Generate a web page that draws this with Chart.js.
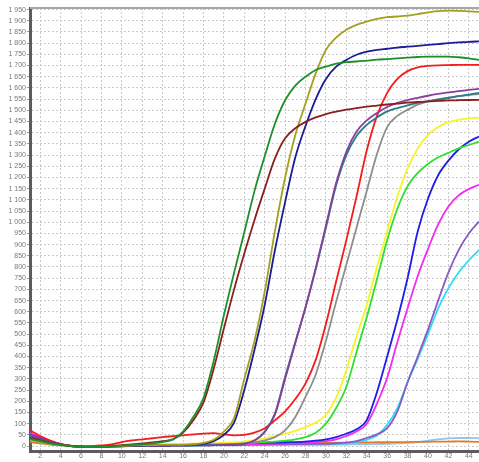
<!DOCTYPE html>
<html>
<head>
<meta charset="utf-8">
<script src="https://cdn.jsdelivr.net/npm/chart.js@4.4.1/dist/chart.umd.min.js"></script>
<style>
html, body { margin: 0; padding: 0; background: #fff; }
</style>
</head>
<body>
<canvas id="chart" width="479" height="462"></canvas>
<script>
// cycle numbers (x)
const cycles = [1, 2, 3, 4, 5, 6, 7, 8, 9, 10, 11, 12, 13, 14, 15, 16, 17, 18, 19, 20, 21, 22, 23,
    24, 25, 26, 27, 28, 29, 30, 31, 32, 33, 34, 35, 36, 37, 38, 39, 40, 41, 42, 43, 44, 45];

// tick labels
const xTicks = [2, 4, 6, 8, 10, 12, 14, 16, 18, 20, 22, 24, 26, 28, 30, 32, 34, 36, 38, 40, 42, 44];
const yTicks = [0, 50, 100, 150, 200, 250, 300, 350, 400, 450, 500, 550, 600, 650, 700, 750, 800, 850,
    900, 950, 1000, 1050, 1100, 1150, 1200, 1250, 1300, 1350, 1400, 1450, 1500, 1550, 1600, 1650,
    1700, 1750, 1800, 1850, 1900, 1950];

// fluorescence per cycle, one array per well
const darkGreen = [32, 22, 12, 5, 0, -3, -4, -3, -1, 2, 5, 8, 12, 18, 30,
    65, 130, 215, 380, 585, 775, 955, 1140, 1295, 1440, 1545, 1610, 1650, 1680, 1695,
    1708, 1715, 1718, 1722, 1726, 1729, 1732, 1735, 1738, 1740, 1740, 1740, 1737, 1732, 1725];
const brown = [38, 26, 14, 6, 0, -3, -4, -3, 0, 4, 8, 12, 16, 22, 30,
    60, 115, 195, 345, 525, 700, 860, 1010, 1150, 1285, 1375, 1420, 1448, 1468, 1483,
    1494, 1503, 1510, 1516, 1521, 1526, 1530, 1534, 1537, 1540, 1542, 1544, 1545, 1546, 1547];
const olive = [35, 24, 13, 5, 0, -3, -4, -3, -2, 0, 2, 3, 4, 5, 5,
    6, 8, 14, 28, 65, 125, 300, 470, 690, 960, 1200, 1390, 1530, 1665, 1770,
    1825, 1860, 1882, 1896, 1908, 1916, 1919, 1923, 1930, 1937, 1943, 1945, 1944, 1942, 1940];
const navy = [36, 25, 14, 6, 0, -3, -4, -3, -2, 0, 1, 2, 3, 3, 4,
    5, 6, 10, 22, 50, 105, 250, 430, 630, 875, 1090, 1290, 1430, 1550, 1640,
    1695, 1725, 1748, 1762, 1770, 1775, 1780, 1784, 1788, 1792, 1796, 1800, 1803, 1806, 1808];
const teal = [40, 28, 16, 7, 1, -3, -4, -3, -2, -1, 0, 0, 1, 1, 2,
    2, 3, 3, 4, 5, 6, 10, 25, 65, 145, 310, 465, 620, 790, 975,
    1165, 1300, 1385, 1435, 1468, 1495, 1510, 1522, 1533, 1540, 1548, 1555, 1563, 1570, 1578];
const plum = [50, 34, 19, 8, 1, -3, -4, -3, -2, -1, 0, 0, 1, 1, 2,
    2, 3, 3, 4, 5, 6, 10, 25, 62, 140, 300, 460, 620, 795, 985,
    1175, 1315, 1405, 1455, 1488, 1515, 1533, 1546, 1556, 1565, 1573, 1580, 1586, 1591, 1596];
const red = [70, 45, 25, 10, 2, -2, 0, 3, 8, 18, 25, 30, 35, 40, 44,
    48, 52, 56, 58, 52, 48, 50, 60, 80, 115, 155, 210, 280, 385, 545,
    735, 920, 1115, 1320, 1475, 1578, 1640, 1675, 1692, 1698, 1701, 1702, 1703, 1703, 1703];
const gray = [38, 26, 14, 6, 0, -3, -4, -3, -2, -1, 0, 1, 2, 3, 4,
    5, 6, 7, 8, 9, 10, 12, 16, 25, 40, 70, 130, 220, 320, 470,
    645, 810, 975, 1140, 1305, 1425, 1475, 1502, 1525, 1540, 1550, 1557, 1563, 1568, 1572];
const yellow = [35, 24, 13, 5, 0, -3, -3, -2, 0, 2, 4, 6, 7, 8, 9,
    10, 11, 12, 13, 14, 16, 20, 26, 34, 44, 55, 68, 85, 105, 140,
    215, 340, 490, 630, 800, 960, 1115, 1240, 1330, 1390, 1425, 1447, 1458, 1464, 1467];
const lime = [30, 20, 10, 4, 0, -3, -3, -2, 0, 1, 2, 3, 4, 5, 6,
    7, 8, 9, 10, 11, 12, 14, 16, 18, 20, 24, 30, 40, 60, 100,
    170, 265, 420, 575, 745, 920, 1060, 1160, 1220, 1260, 1290, 1310, 1330, 1345, 1360];
const blue = [50, 35, 20, 8, 0, -3, -3, -2, 0, 1, 2, 3, 4, 5, 6,
    7, 8, 9, 10, 11, 12, 13, 14, 15, 16, 17, 18, 20, 24, 30,
    40, 55, 75, 116, 240, 400, 565, 750, 960, 1105, 1210, 1275, 1325, 1360, 1383];
const magenta = [58, 40, 22, 9, 1, -3, -3, -2, 0, 1, 2, 2, 3, 3, 4,
    4, 5, 5, 6, 6, 7, 8, 9, 10, 11, 12, 13, 15, 18, 22,
    30, 45, 65, 100, 190, 305, 465, 615, 760, 880, 990, 1070, 1120, 1148, 1167];
const lavender = [55, 38, 21, 8, 1, -3, -3, -2, 0, 1, 1, 2, 2, 3, 3,
    3, 4, 4, 5, 5, 6, 6, 7, 7, 8, 8, 9, 9, 10, 10,
    12, 15, 22, 36, 52, 80, 155, 285, 400, 520, 650, 775, 875, 950, 1003];
const cyan = [45, 32, 18, 7, 0, -3, -3, -2, 0, 1, 1, 2, 2, 2, 3,
    3, 3, 4, 4, 5, 5, 5, 6, 6, 7, 7, 8, 8, 8, 8,
    10, 12, 18, 28, 47, 95, 170, 285, 390, 500, 615, 705, 775, 830, 876];
const orange = [18, 12, 7, 3, 0, -2, -2, -1, 0, 1, 2, 3, 4, 5, 6,
    7, 8, 8, 9, 9, 10, 10, 11, 11, 12, 12, 13, 13, 14, 14,
    15, 15, 16, 16, 17, 17, 18, 18, 19, 19, 20, 20, 21, 20, 19];
const skyBlue = [25, 16, 8, 3, 0, -2, -2, -1, 0, 0, 1, 1, 1, 2, 2,
    2, 2, 3, 3, 3, 3, 4, 4, 4, 5, 5, 5, 6, 6, 6,
    7, 7, 8, 8, 9, 10, 12, 14, 18, 24, 30, 34, 36, 36, 35];

const wells = [
    { data: darkGreen, color: '#1f8f2a' },
    { data: brown, color: '#8b1f1f' },
    { data: olive, color: '#a3a01e' },
    { data: navy, color: '#1c1c96' },
    { data: plum, color: '#8a3f9c' },
    { data: teal, color: '#2b7c88' },
    { data: red, color: '#f41c1c' },
    { data: gray, color: '#8e8e8e' },
    { data: yellow, color: '#f4f428' },
    { data: lime, color: '#2ee02e' },
    { data: blue, color: '#1e1ee6' },
    { data: magenta, color: '#f02cf0' },
    { data: lavender, color: '#8a5ac6' },
    { data: cyan, color: '#30def0' },
    { data: orange, color: '#e07c24' },
    { data: skyBlue, color: '#96c4ee' }
];

function fmt(v) {
    if (v >= 1000) return Math.floor(v / 1000) + ' ' + String(v % 1000).padStart(3, '0');
    return String(v);
}

// light frame along the top of the plot
const topBorder = {
    id: 'topBorder',
    afterDraw(chart) {
        const { ctx, chartArea } = chart;
        ctx.save();
        ctx.strokeStyle = '#a6a6a6';
        ctx.lineWidth = 2;
        ctx.beginPath();
        ctx.moveTo(chartArea.left, chartArea.top);
        ctx.lineTo(chartArea.right, chartArea.top);
        ctx.stroke();
        ctx.restore();
    }
};

const tickFont = { size: 7, family: 'Liberation Sans' };

new Chart(document.getElementById('chart'), {
    type: 'line',
    data: {
        datasets: wells.map(w => ({
            data: cycles.map((c, i) => ({ x: c, y: w.data[i] })),
            borderColor: w.color,
            borderWidth: 1.8,
            pointRadius: 0,
            fill: false,
            cubicInterpolationMode: 'monotone'
        }))
    },
    options: {
        responsive: false,
        animation: false,
        layout: { padding: { top: 8, right: 0, left: 0, bottom: 0 } },
        plugins: {
            legend: { display: false },
            tooltip: { enabled: false }
        },
        scales: {
            x: {
                type: 'linear',
                min: 1,
                max: 45,
                afterBuildTicks: s => { s.ticks = xTicks.map(v => ({ value: v })); },
                afterFit: s => { s.height = 11; },
                ticks: { font: tickFont, color: '#777', padding: 1, autoSkip: false, maxRotation: 0 },
                grid: { color: '#cacaca', lineWidth: 1, drawTicks: false },
                border: { color: '#5c5c5c', width: 3, dash: [2, 2] }
            },
            y: {
                type: 'linear',
                min: -22,
                max: 1957,
                afterBuildTicks: s => { s.ticks = yTicks.map(v => ({ value: v })); },
                afterFit: s => { s.width = 30; },
                ticks: { font: tickFont, color: '#777', padding: 1, autoSkip: false, callback: v => fmt(v) },
                grid: { color: '#cacaca', lineWidth: 1, tickLength: 3, tickColor: '#999' },
                border: { color: '#5c5c5c', width: 3, dash: [2, 2] }
            }
        }
    },
    plugins: [topBorder]
});
</script>
</body>
</html>
